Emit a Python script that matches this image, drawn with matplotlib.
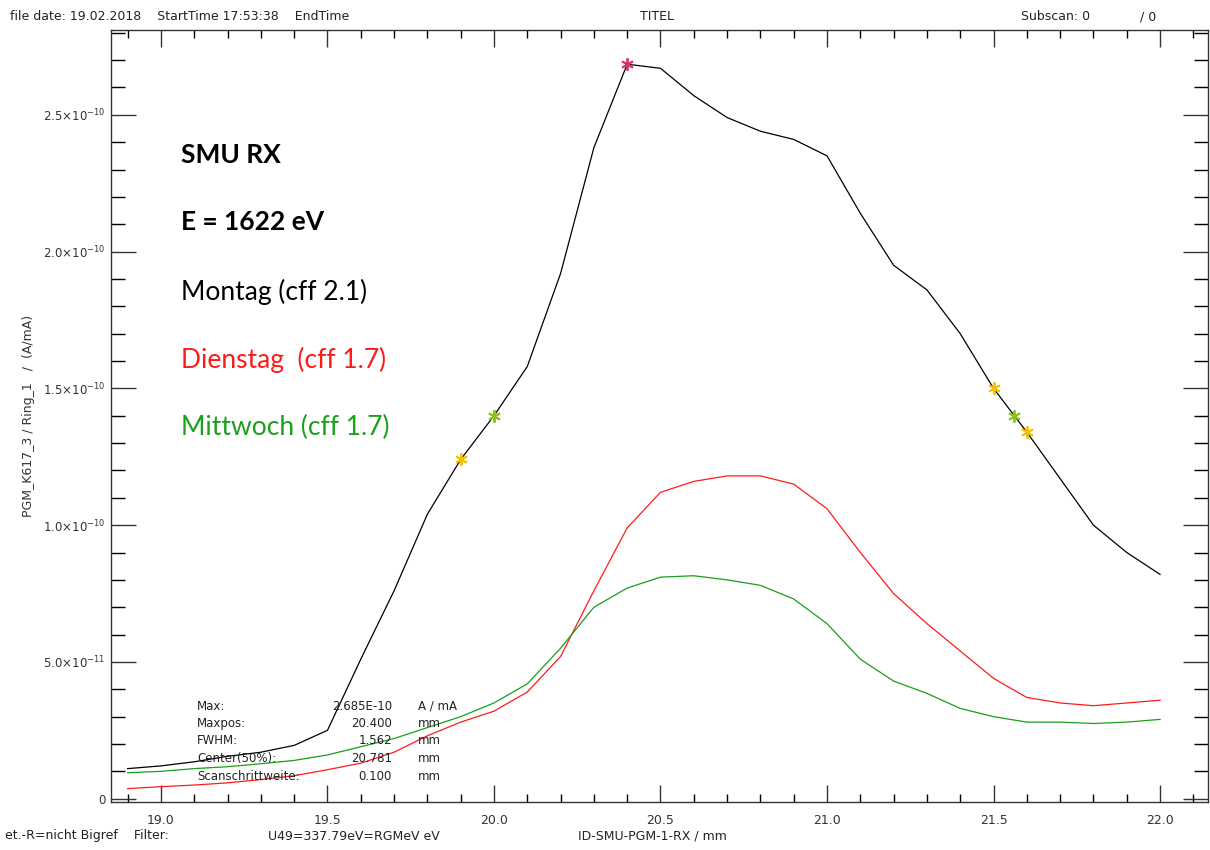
import numpy as np
import matplotlib
matplotlib.use('Agg')
import matplotlib.pyplot as plt
from matplotlib.ticker import MultipleLocator, FuncFormatter

# scan positions (mm)
pos = [18.9, 19.0, 19.1, 19.2, 19.3, 19.4, 19.5, 19.6, 19.7, 19.8, 19.9,
       20.0, 20.1, 20.2, 20.3, 20.4, 20.5, 20.6, 20.7, 20.8, 20.9,
       21.0, 21.1, 21.2, 21.3, 21.4, 21.5, 21.6, 21.7, 21.8, 21.9, 22.0]

# signal in units of 1e-10 A/mA
montag = [0.11, 0.12, 0.135, 0.155, 0.17, 0.195, 0.25, 0.51, 0.76, 1.04, 1.24,
          1.40, 1.58, 1.92, 2.38, 2.685, 2.67, 2.57, 2.49, 2.44, 2.41,
          2.35, 2.14, 1.95, 1.86, 1.70, 1.50, 1.34, 1.17, 1.00, 0.90, 0.82]
dienstag = [0.037, 0.044, 0.05, 0.058, 0.07, 0.084, 0.106, 0.13, 0.17, 0.23, 0.28,
            0.32, 0.39, 0.52, 0.76, 0.99, 1.12, 1.16, 1.18, 1.18, 1.15,
            1.06, 0.90, 0.75, 0.64, 0.54, 0.44, 0.37, 0.35, 0.34, 0.35, 0.36]
mittwoch = [0.095, 0.10, 0.11, 0.117, 0.128, 0.14, 0.16, 0.19, 0.22, 0.26, 0.30,
            0.35, 0.42, 0.55, 0.70, 0.77, 0.81, 0.815, 0.80, 0.78, 0.73,
            0.64, 0.51, 0.43, 0.385, 0.33, 0.30, 0.28, 0.28, 0.275, 0.28, 0.29]

# marked points on the Montag curve
peak_x, peak_y = [20.4], [2.685]
edge_x = [19.9, 20.0, 21.5, 21.6]
edge_y = [1.24, 1.40, 1.50, 1.34]
half_x = [20.0, 21.562]
half_y = [1.40, 1.40]

stat_names = ['Max:', 'Maxpos:', 'FWHM:', 'Center(50%):', 'Scanschrittweite:']
stat_vals = ['2.685E-10', '20.400', '1.562', '20.781', '0.100']
stat_units = ['A / mA', 'mm', 'mm', 'mm', 'mm']

E = 1e-10
fig = plt.figure(figsize=(12.1, 8.5), dpi=100)
ax = fig.add_axes([111/1210, 1-802/850, (1208-111)/1210, (802-30)/850])

ax.plot(pos, np.array(montag)*E, color='black', lw=0.9)
ax.plot(pos, np.array(dienstag)*E, color='#ff1a1a', lw=0.9)
ax.plot(pos, np.array(mittwoch)*E, color='#1a9e1a', lw=0.9)

star = (6, 2, 0)
ax.plot(edge_x, np.array(edge_y)*E, ls='none', marker=star, ms=9, mec='#f5c000', mew=1.3)
ax.plot(half_x, np.array(half_y)*E, ls='none', marker=star, ms=9, mec='#8cc21a', mew=1.3)
ax.plot(peak_x, np.array(peak_y)*E, ls='none', marker=star, ms=9, mec='#d6306e', mew=1.3)

ax.set_xlim(18.85, 22.144)
ax.set_ylim(-0.012*E, 2.81*E)

ax.xaxis.set_major_locator(MultipleLocator(0.5))
ax.xaxis.set_minor_locator(MultipleLocator(0.1))
ax.yaxis.set_major_locator(MultipleLocator(0.5*E))
ax.yaxis.set_minor_locator(MultipleLocator(0.1*E))

def yfmt(v, p):
    if abs(v) < 1e-15:
        return '0'
    exp = int(np.floor(np.log10(abs(v))))
    m = v / 10**exp
    return r'$%.1f{\times}10^{%d}$' % (m, exp)

ax.yaxis.set_major_formatter(FuncFormatter(yfmt))
ax.xaxis.set_major_formatter(FuncFormatter(lambda v, p: '%.1f' % v))

ax.tick_params(axis='x', which='major', direction='in', length=12, width=1,
               top=True, labelsize=9, pad=9, colors='#333333')
ax.tick_params(axis='x', which='minor', direction='in', length=6, width=1, top=True)
ax.tick_params(axis='y', which='major', direction='in', length=18, width=1,
               right=True, labelsize=8.5, pad=4, colors='#333333')
ax.tick_params(axis='y', which='minor', direction='in', length=10, width=1, right=True)
for s in ax.spines.values():
    s.set_color('#333333')
    s.set_linewidth(1)

ax.set_ylabel('PGM_K617_3 / Ring_1   /  (A/mA)', fontsize=9, color='#333333')
ax.yaxis.set_label_coords(-0.069, 0.5)

# legend-like annotations
tf = ['Lato', 'DejaVu Sans']
fig.text(181/1210, 1-155/850, 'SMU RX', fontsize=19, weight='bold', family=tf, va='center')
fig.text(181/1210, 1-222/850, 'E = 1622 eV', fontsize=19, weight='bold', family=tf, va='center')
fig.text(181/1210, 1-292/850, 'Montag (cff 2.1)', fontsize=19, family=tf, va='center')
fig.text(181/1210, 1-360/850, 'Dienstag  (cff 1.7)', fontsize=19, family=tf, va='center',
         color='#ff1a1a')
fig.text(181/1210, 1-427/850, 'Mittwoch (cff 1.7)', fontsize=19, family=tf, va='center',
         color='#1aa01a')

# statistics block
for i in range(len(stat_names)):
    yy = 1 - (706 + i*17.5)/850
    fig.text(197/1210, yy, stat_names[i], fontsize=8.5, va='center', color='#222222')
    fig.text(392/1210, yy, stat_vals[i], fontsize=8.5, va='center', ha='right', color='#222222')
    fig.text(418/1210, yy, stat_units[i], fontsize=8.5, va='center', color='#222222')

# header and footer
hc = '#222222'
fig.text(10/1210, 1-17/850, 'file date: 19.02.2018    StartTime 17:53:38    EndTime',
         fontsize=9, va='center', color=hc)
fig.text(640/1210, 1-17/850, 'TITEL', fontsize=9, va='center', color=hc)
fig.text(1021/1210, 1-17/850, 'Subscan: 0', fontsize=9, va='center', color=hc)
fig.text(1140/1210, 1-17/850, '/ 0', fontsize=9, va='center', color=hc)
fig.text(5/1210, 1-836/850, 'et.-R=nicht Bigref    Filter:', fontsize=9, va='center', color=hc)
fig.text(268/1210, 1-836/850, 'U49=337.79eV=RGMeV eV', fontsize=9, va='center', color=hc)
fig.text(578/1210, 1-836/850, 'ID-SMU-PGM-1-RX / mm', fontsize=9, va='center', color=hc)

fig.savefig('out.png', dpi=100)
